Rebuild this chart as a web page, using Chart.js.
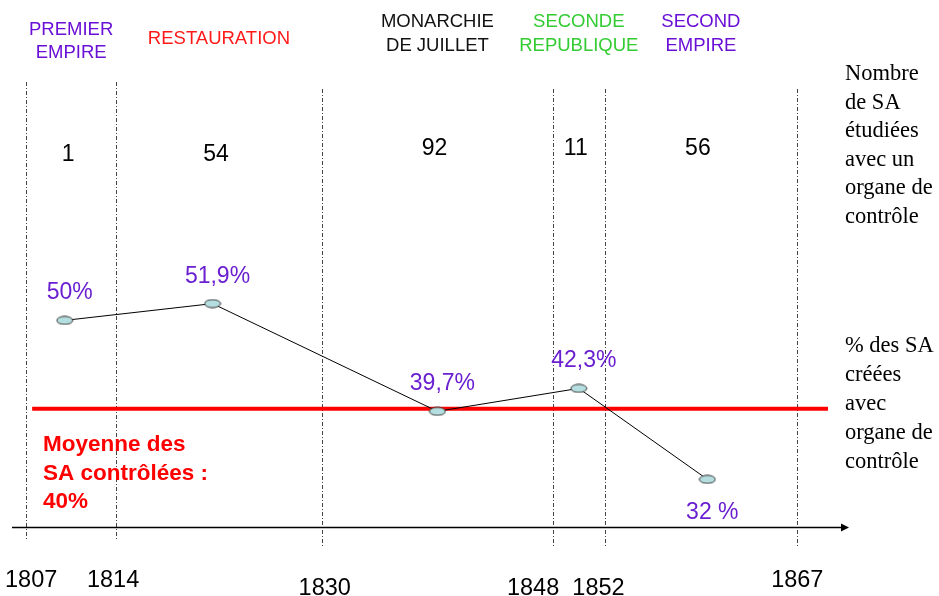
<!DOCTYPE html>
<html>
<head>
<meta charset="utf-8">
<script src="https://cdn.jsdelivr.net/npm/chart.js@4.4.1/dist/chart.umd.min.js"></script>
<style>
  html, body { margin: 0; padding: 0; background: #ffffff; }
  #wrap { width: 939px; height: 596px; position: relative; }
</style>
</head>
<body>
<div id="wrap"><canvas id="c" width="939" height="596"></canvas></div>
<script>
// ---------- DATA ----------
const periodBounds = [1807, 1814, 1830, 1848, 1852, 1867];
const periodNames = [["PREMIER", "EMPIRE"], ["RESTAURATION"], ["MONARCHIE", "DE JUILLET"], ["SECONDE", "REPUBLIQUE"], ["SECOND", "EMPIRE"]];
const saCounts = [1, 54, 92, 11, 56];
const pointYears = [1810, 1821.5, 1839, 1850, 1860];
const pctValues = [50, 51.9, 39.7, 42.3, 32];
const pctLabels = ["50%", "51,9%", "39,7%", "42,3%", "32 %"];
const averagePct = 40;
const averageText = ["Moyenne des", "SA contrôlées :", "40%"];
const rightTextTop = ["Nombre", "de SA", "étudiées", "avec un", "organe de", "contrôle"];
const rightTextBottom = ["% des SA", "créées", "avec", "organe de", "contrôle"];

// ---------- STYLE / LAYOUT ----------
const SANS = "'Liberation Sans', Arial, sans-serif";
const SERIF = "'Liberation Serif', 'Times New Roman', serif";
const periodColors = ["#6a0fd6", "#ff1a1a", "#111111", "#33cc33", "#6a0fd6"];
const periodLabelCenterY = [41.5, 39, 34, 34, 34];
const countY = [155, 155, 148.5, 148.5, 148.5];
const dashTop = [82, 82, 89, 89, 89, 89];
const dashBottom = [541, 541, 548, 548, 548, 548];
const tickLow = [false, false, true, true, true, false];
const tickDx = [5, -3, 3, -20, -6, 0];
const pctColor = "#6a1fd0";

// ellipse point marker
const marker = document.createElement('canvas');
marker.width = 18; marker.height = 10;
(function () {
  const m = marker.getContext('2d');
  m.beginPath();
  m.ellipse(9, 5, 8, 4, 0, 0, Math.PI * 2);
  m.fillStyle = '#b5dee0';
  m.fill();
  m.lineWidth = 1;
  m.strokeStyle = '#3a3a3a';
  m.stroke();
})();

const decor = {
  id: 'decor',
  beforeDatasetsDraw(chart) {
    const ctx = chart.ctx, xs = chart.scales.x, ys = chart.scales.y, ca = chart.chartArea;
    ctx.save();
    // dashed period separators
    ctx.strokeStyle = '#444';
    ctx.lineWidth = 1;
    ctx.setLineDash([4, 2, 1, 2]);
    periodBounds.forEach((b, i) => {
      const x = Math.round(xs.getPixelForValue(b)) + 0.5;
      ctx.beginPath();
      ctx.moveTo(x, dashTop[i]);
      ctx.lineTo(x, dashBottom[i]);
      ctx.stroke();
    });
    ctx.setLineDash([]);
    // average red line
    const ya = ys.getPixelForValue(averagePct);
    ctx.strokeStyle = '#ff0000';
    ctx.lineWidth = 4;
    ctx.beginPath();
    ctx.moveTo(xs.getPixelForValue(periodBounds[0]) + 6, ya);
    ctx.lineTo(ca.right - 22, ya);
    ctx.stroke();
    // time axis arrow
    const yb = ca.bottom + 0.5;
    ctx.strokeStyle = '#000';
    ctx.lineWidth = 1.5;
    ctx.beginPath();
    ctx.moveTo(ca.left, yb);
    ctx.lineTo(ca.right - 6, yb);
    ctx.stroke();
    ctx.fillStyle = '#000';
    ctx.beginPath();
    ctx.moveTo(ca.right - 1, yb);
    ctx.lineTo(ca.right - 9, yb - 4);
    ctx.lineTo(ca.right - 9, yb + 4);
    ctx.closePath();
    ctx.fill();
    ctx.restore();
  },
  afterDatasetsDraw(chart) {
    const ctx = chart.ctx, xs = chart.scales.x, ys = chart.scales.y;
    ctx.save();
    ctx.textAlign = 'center';
    ctx.textBaseline = 'middle';
    // period names
    ctx.font = `18.5px ${SANS}`;
    periodNames.forEach((lines, i) => {
      const xc = xs.getPixelForValue((periodBounds[i] + periodBounds[i + 1]) / 2);
      ctx.fillStyle = periodColors[i];
      const n = lines.length;
      lines.forEach((t, k) => {
        ctx.fillText(t, xc, periodLabelCenterY[i] + (k - (n - 1) / 2) * 23.5);
      });
    });
    // counts
    ctx.fillStyle = '#000';
    ctx.font = `23px ${SANS}`;
    saCounts.forEach((c, i) => {
      const xc = xs.getPixelForValue((periodBounds[i] + periodBounds[i + 1]) / 2);
      ctx.fillText(String(c), xc - 3, countY[i]);
    });
    // percentage labels
    ctx.textBaseline = 'alphabetic';
    ctx.font = `23px ${SANS}`;
    ctx.fillStyle = pctColor;
    const meta = chart.getDatasetMeta(0);
    meta.data.forEach((pt, i) => {
      const below = i === pctLabels.length - 1;
      ctx.fillText(pctLabels[i], pt.x + 5, pt.y + (below ? 40 : -21));
    });
    // year tick labels
    ctx.fillStyle = '#000';
    ctx.font = `23.5px ${SANS}`;
    periodBounds.forEach((b, i) => {
      const x = xs.getPixelForValue(b);
      ctx.fillText(String(b), x + tickDx[i], tickLow[i] ? 595 : 587);
    });
    // average annotation
    ctx.textAlign = 'left';
    ctx.fillStyle = '#ff0000';
    ctx.font = `bold 22.5px ${SANS}`;
    averageText.forEach((t, k) => ctx.fillText(t, 43, 451 + k * 28.5));
    // right side texts
    ctx.fillStyle = '#000';
    ctx.font = `22.5px ${SERIF}`;
    rightTextTop.forEach((t, k) => ctx.fillText(t, 845, 80 + k * 28.6));
    rightTextBottom.forEach((t, k) => ctx.fillText(t, 845, 352 + k * 29));
    ctx.restore();
  }
};

new Chart(document.getElementById('c'), {
  type: 'line',
  data: {
    datasets: [{
      data: pointYears.map((yr, i) => ({ x: yr, y: pctValues[i] })),
      borderColor: '#000',
      borderWidth: 1,
      tension: 0,
      pointStyle: marker,
      pointRadius: 5,
      pointHoverRadius: 5,
      fill: false
    }]
  },
  options: {
    responsive: false,
    animation: false,
    events: [],
    layout: { padding: { left: 12, right: 89, top: 82, bottom: 69 } },
    plugins: { legend: { display: false }, tooltip: { enabled: false } },
    scales: {
      x: { type: 'linear', min: 1805.9, max: 1871.1, display: false },
      y: { type: 'linear', min: 26.6, max: 77, display: false }
    }
  },
  plugins: [decor]
});
</script>
</body>
</html>
